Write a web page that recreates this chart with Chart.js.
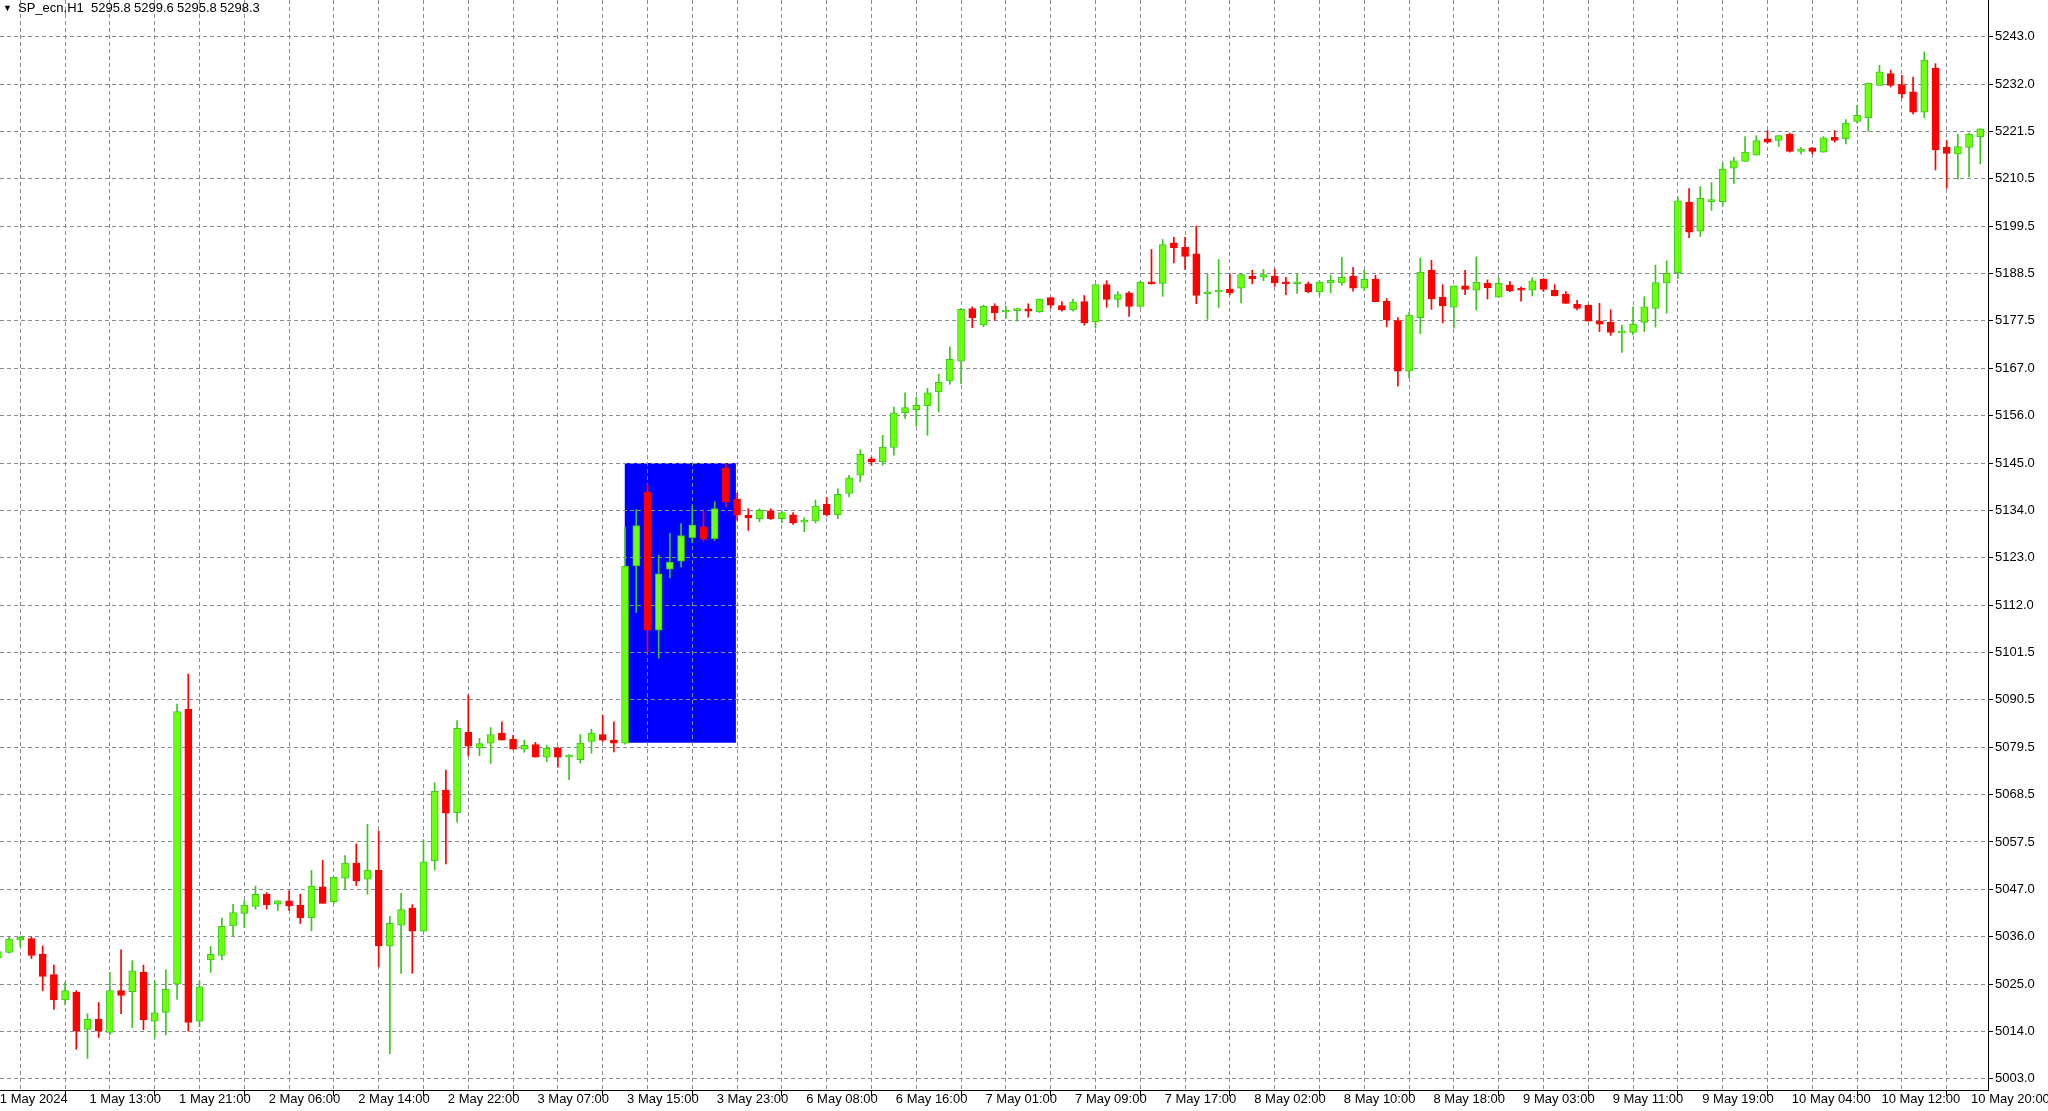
<!DOCTYPE html>
<html>
<head>
<meta charset="utf-8">
<script src="https://cdn.jsdelivr.net/npm/chart.js@4.4.1/dist/chart.umd.min.js"></script>
<style>
html,body{margin:0;padding:0;background:#fff;overflow:hidden}
#wrap{position:relative;width:2048px;height:1111px}
#hdr span{position:absolute;top:0;font:13px "Liberation Sans",Arial,sans-serif;color:#000;line-height:16px;white-space:pre}
#hdr .tri{font-size:9px;line-height:16px}
</style>
</head>
<body>
<div id="wrap">
<canvas id="c" width="2048" height="1111"></canvas>
<div id="hdr">
<span class="tri" style="left:3px">▼</span>
<span style="left:18px">SP_ecn,H1</span>
<span style="left:91px">5295.8</span>
<span style="left:134px">5299.6</span>
<span style="left:177px">5295.8</span>
<span style="left:220px">5298.3</span>
</div>
</div>
<script>
// ---- data (H1 candles, 1 May 2024 05:00 .. 10 May 2024 21:00) ----
const openP = [
5030.8,5032.1,5035.0,5035.3,5031.7,5027.0,5021.2,5023.0,5014.4,5016.7,
5013.7,5023.3,5023.1,5027.5,5016.3,5018.3,5024.8,5088.1,5016.3,5030.4,
5031.4,5038.2,5041.1,5042.7,5045.5,5043.2,5044.0,5043.0,5040.1,5047.2,
5043.8,5049.2,5052.7,5049.0,5051.1,5033.6,5038.4,5042.3,5037.0,5053.2,
5069.5,5064.3,5082.8,5079.2,5080.3,5082.6,5081.2,5078.9,5080.0,5077.1,
5079.2,5077.1,5076.5,5080.7,5082.3,5081.0,5080.3,5121.1,5138.2,5106.3,
5120.4,5122.2,5127.6,5130.1,5127.4,5143.7,5136.5,5132.8,5132.0,5133.8,
5132.0,5132.9,5131.2,5131.5,5135.3,5132.9,5137.8,5142.0,5145.8,5145.1,
5148.4,5156.4,5157.1,5158.0,5161.2,5163.7,5168.3,5180.4,5176.6,5180.9,
5179.6,5179.9,5180.3,5179.6,5182.9,5181.1,5180.1,5182.0,5177.3,5185.9,
5182.5,5184.0,5180.9,5186.3,5186.2,5195.5,5194.5,5193.0,5183.8,5184.2,
5184.9,5185.1,5187.8,5187.6,5187.8,5186.3,5186.1,5186.1,5184.2,5186.3,
5186.3,5187.8,5185.1,5187.2,5182.1,5177.6,5166.0,5178.3,5189.2,5183.0,
5180.7,5185.6,5184.6,5186.2,5183.0,5185.8,5185.0,5184.6,5187.1,5184.6,
5183.7,5181.4,5181.2,5177.5,5177.2,5174.8,5174.9,5177.2,5180.4,5186.3,
5188.6,5204.9,5198.2,5205.0,5205.0,5212.7,5214.3,5215.7,5219.5,5219.1,
5220.6,5216.6,5217.4,5216.4,5219.8,5219.5,5223.5,5224.3,5231.8,5234.5,
5232.0,5230.3,5225.6,5235.7,5217.5,5216.0,5217.5,5220.0
];
const highP = [
5033.0,5035.6,5035.8,5035.7,5033.6,5029.2,5025.2,5023.3,5018.0,5020.6,
5027.5,5032.7,5030.2,5029.2,5025.6,5028.1,5089.3,5096.2,5025.6,5033.5,
5040.0,5043.2,5044.0,5047.4,5045.9,5044.0,5046.3,5045.5,5051.0,5053.3,
5049.4,5054.4,5057.1,5061.6,5060.1,5040.4,5045.7,5043.1,5058.1,5071.2,
5074.1,5085.5,5091.4,5081.4,5083.9,5085.2,5082.1,5081.0,5080.5,5079.8,
5079.4,5077.7,5082.3,5083.5,5086.7,5085.2,5130.0,5134.1,5140.0,5123.6,
5128.6,5130.9,5134.9,5133.8,5135.9,5144.7,5137.9,5134.3,5134.3,5134.3,
5133.8,5133.4,5132.2,5136.3,5136.9,5138.9,5142.0,5147.9,5146.2,5151.2,
5157.7,5161.0,5160.0,5162.0,5165.3,5171.6,5180.4,5180.8,5181.2,5181.5,
5180.9,5180.4,5181.5,5182.6,5182.9,5182.0,5182.6,5183.4,5185.9,5186.8,
5184.3,5184.3,5186.7,5194.0,5196.3,5196.8,5196.8,5199.4,5188.4,5191.7,
5188.4,5188.4,5189.2,5189.4,5189.4,5187.6,5188.4,5186.5,5186.8,5188.1,
5192.2,5189.9,5189.2,5188.1,5182.7,5178.3,5179.5,5192.0,5191.5,5185.9,
5185.6,5189.2,5192.3,5187.0,5187.5,5186.6,5185.4,5187.5,5187.3,5185.9,
5184.3,5182.3,5181.2,5181.6,5180.1,5176.6,5180.8,5183.1,5190.4,5191.4,
5206.1,5208.0,5208.5,5209.4,5213.9,5215.2,5220.0,5220.2,5221.4,5220.2,
5220.8,5217.5,5217.5,5220.0,5221.4,5223.9,5227.2,5232.3,5236.4,5235.3,
5234.1,5233.7,5239.5,5236.8,5219.1,5220.5,5220.8,5221.8
];
const lowP = [
5030.0,5032.0,5033.4,5030.7,5023.3,5019.0,5020.0,5009.8,5007.7,5012.5,
5013.1,5018.0,5014.8,5014.3,5012.5,5013.1,5021.3,5014.0,5015.0,5027.5,
5030.4,5035.9,5037.8,5042.1,5042.1,5041.8,5041.8,5038.8,5037.1,5043.4,
5043.4,5046.7,5047.5,5045.5,5028.8,5008.8,5027.3,5027.3,5037.0,5051.1,
5052.5,5062.1,5077.4,5077.4,5075.6,5081.0,5078.9,5078.2,5077.1,5076.0,
5074.8,5071.9,5075.7,5078.0,5080.7,5078.3,5080.1,5110.4,5101.3,5099.9,
5118.4,5120.9,5126.5,5126.8,5127.0,5134.7,5131.6,5129.3,5131.3,5131.8,
5131.0,5130.7,5129.0,5131.0,5132.6,5132.0,5137.0,5140.5,5144.3,5144.3,
5146.6,5155.1,5153.3,5151.2,5156.6,5163.0,5163.1,5176.0,5176.2,5177.7,
5178.1,5177.5,5178.4,5179.5,5180.5,5179.8,5179.8,5176.6,5175.9,5180.7,
5180.7,5178.6,5180.7,5186.0,5183.2,5190.9,5189.4,5181.5,5177.9,5180.6,
5183.6,5181.7,5186.1,5186.8,5185.5,5183.6,5183.9,5184.0,5183.4,5184.0,
5185.7,5184.4,5184.5,5182.0,5176.2,5162.5,5164.5,5174.6,5180.2,5177.1,
5175.9,5183.6,5180.1,5182.6,5183.0,5184.3,5182.1,5183.3,5184.3,5183.3,
5181.6,5180.1,5177.5,5175.1,5174.2,5170.3,5174.3,5175.1,5176.1,5179.3,
5187.3,5196.7,5197.0,5203.0,5204.0,5209.2,5214.3,5215.7,5218.5,5217.7,
5216.4,5216.0,5216.0,5216.4,5218.7,5218.3,5223.1,5221.2,5231.8,5231.4,
5228.9,5225.2,5224.3,5212.3,5208.1,5210.2,5210.7,5213.7
];
const closeP = [
5032.3,5035.2,5035.6,5031.4,5026.6,5021.2,5023.3,5014.0,5016.7,5014.0,
5023.3,5022.2,5027.9,5016.6,5018.2,5023.6,5087.6,5016.0,5024.2,5031.7,
5038.1,5041.3,5043.0,5045.5,5043.1,5044.0,5042.8,5040.1,5047.4,5043.4,
5049.4,5052.7,5048.6,5051.1,5033.6,5038.8,5042.0,5037.0,5053.0,5069.2,
5064.2,5083.7,5079.6,5080.2,5082.3,5081.0,5078.9,5079.8,5077.1,5079.2,
5077.1,5077.3,5080.3,5082.6,5081.0,5080.3,5121.1,5130.4,5106.3,5119.3,
5122.0,5128.1,5130.5,5127.4,5134.3,5135.9,5132.8,5132.2,5133.9,5132.0,
5133.4,5131.0,5131.4,5134.9,5132.9,5137.6,5141.4,5146.9,5145.1,5148.5,
5156.4,5157.6,5158.1,5161.0,5163.4,5168.7,5180.2,5178.3,5180.9,5179.4,
5180.0,5180.2,5179.8,5182.6,5181.2,5180.1,5181.9,5177.1,5185.9,5182.5,
5183.6,5180.9,5186.5,5186.1,5195.1,5194.4,5192.4,5183.4,5184.0,5184.6,
5184.0,5188.2,5187.2,5188.2,5186.3,5186.1,5186.3,5184.3,5186.5,5186.9,
5187.6,5185.1,5187.1,5182.0,5177.8,5166.0,5178.9,5188.8,5182.6,5181.0,
5185.6,5184.8,5186.5,5185.2,5186.2,5184.5,5184.6,5186.8,5184.8,5183.3,
5181.6,5180.4,5177.5,5176.8,5174.9,5174.9,5176.8,5180.8,5186.4,5188.5,
5205.2,5198.0,5205.8,5205.4,5212.5,5214.4,5216.4,5219.1,5218.7,5220.2,
5216.6,5217.1,5216.6,5219.7,5219.1,5223.1,5224.9,5232.3,5234.9,5231.8,
5229.9,5225.6,5237.6,5216.9,5216.1,5217.7,5220.6,5221.8
];
// time-axis labels, one every 8 bars (first label at bar 0)
const xTickLabels = ['1 May 2024','1 May 13:00','1 May 21:00','2 May 06:00','2 May 14:00','2 May 22:00',
  '3 May 07:00','3 May 15:00','3 May 23:00','6 May 08:00','6 May 16:00','7 May 01:00','7 May 09:00',
  '7 May 17:00','8 May 02:00','8 May 10:00','8 May 18:00','9 May 03:00','9 May 11:00','9 May 19:00',
  '10 May 04:00','10 May 12:00','10 May 20:00'];
// price-axis labels, bottom to top
const yTickLabels = ['5003.0','5014.0','5025.0','5036.0','5047.0','5057.5','5068.5','5079.5','5090.5',
  '5101.5','5112.0','5123.0','5134.0','5145.0','5156.0','5167.0','5177.5','5188.5','5199.5','5210.5',
  '5221.5','5232.0','5243.0'];
// blue rectangle object: bar-index span and price span
const boxBars = [55.95, 65.9];
const boxPrice = [5080.4, 5144.8];

// ---- chart ----
const BARS_PER_LABEL = 8, BARS_PER_GRID = 4;
const GRID = '#878c94';
const UP_FILL = '#6cff10', UP_LINE = '#38c81a', DOWN = '#ff0000';
const FONT = {family: '"Liberation Sans", Arial, sans-serif', size: 13};

const idx = openP.map((_, i) => i);
const isUp = idx.map(i => closeP[i] >= openP[i]);
const wickData = idx.map(i => ({x: i, y: [lowP[i], highP[i]]}));
const bodyData = idx.map(i => ({x: i, y: [openP[i], closeP[i]]}));
const yLo = parseFloat(yTickLabels[0]), yHi = parseFloat(yTickLabels[yTickLabels.length - 1]);
const lastLabelBar = (xTickLabels.length - 1) * BARS_PER_LABEL;

new Chart(document.getElementById('c'), {
  type: 'bar',
  data: {
    datasets: [
      {
        type: 'line', label: 'box',
        data: [{x: boxBars[0], y: boxPrice[1]}, {x: boxBars[1], y: boxPrice[1]}],
        fill: {value: boxPrice[0]}, backgroundColor: '#0000ff',
        borderWidth: 0, borderColor: 'rgba(0,0,0,0)', pointRadius: 0, tension: 0, order: 3
      },
      {
        label: 'wick', data: wickData, grouped: false, barThickness: 1,
        backgroundColor: c => isUp[c.dataIndex] ? UP_LINE : DOWN, borderWidth: 0, order: 2
      },
      {
        label: 'body', data: bodyData, grouped: false, barThickness: 7, minBarLength: 2,
        backgroundColor: c => isUp[c.dataIndex] ? UP_FILL : DOWN,
        borderColor: c => isUp[c.dataIndex] ? UP_LINE : DOWN,
        borderWidth: 1, borderSkipped: false, order: 1
      }
    ]
  },
  options: {
    responsive: false, animation: false, events: [],
    layout: {padding: 0, autoPadding: false},
    plugins: {legend: {display: false}, tooltip: {enabled: false}, filler: {drawTime: 'beforeDraw'}},
    scales: {
      x: {
        type: 'linear', position: 'bottom', min: 0.19, max: 177.69, offset: false,
        afterBuildTicks: s => { const t = []; for (let v = 0; v <= lastLabelBar; v += BARS_PER_GRID) t.push({value: v}); s.ticks = t; },
        afterFit: s => { s.height = 21; s.paddingLeft = 0; s.paddingRight = 0; },
        ticks: {
          autoSkip: false, maxRotation: 0, minRotation: 0, align: 'start', labelOffset: 2, padding: -4,
          color: '#000', font: FONT,
          callback: v => (v % BARS_PER_LABEL === 0) ? xTickLabels[v / BARS_PER_LABEL] : ''
        },
        grid: {
          color: GRID, lineWidth: 1, drawTicks: true, tickLength: 6, tickWidth: 1,
          tickColor: c => (c.tick && c.tick.value % BARS_PER_LABEL === 0) ? '#000' : 'rgba(0,0,0,0)'
        },
        border: {display: true, color: '#000', width: 1, dash: [4, 3]}
      },
      y: {
        type: 'linear', position: 'right', min: 5000.43, max: 5251.45,
        afterBuildTicks: s => { s.ticks = yTickLabels.map((_, i) => ({value: yLo + i * (yHi - yLo) / (yTickLabels.length - 1)})); },
        afterFit: s => { s.width = 60; s.paddingTop = 0; s.paddingBottom = 0; },
        ticks: {autoSkip: false, padding: 2, color: '#000', font: FONT, callback: (v, i) => yTickLabels[i]},
        grid: {color: GRID, lineWidth: 1, drawTicks: true, tickLength: 5, tickWidth: 1, tickColor: '#000'},
        border: {display: true, color: '#000', width: 1, dash: [4, 3]}
      }
    }
  }
});
</script>
</body>
</html>
